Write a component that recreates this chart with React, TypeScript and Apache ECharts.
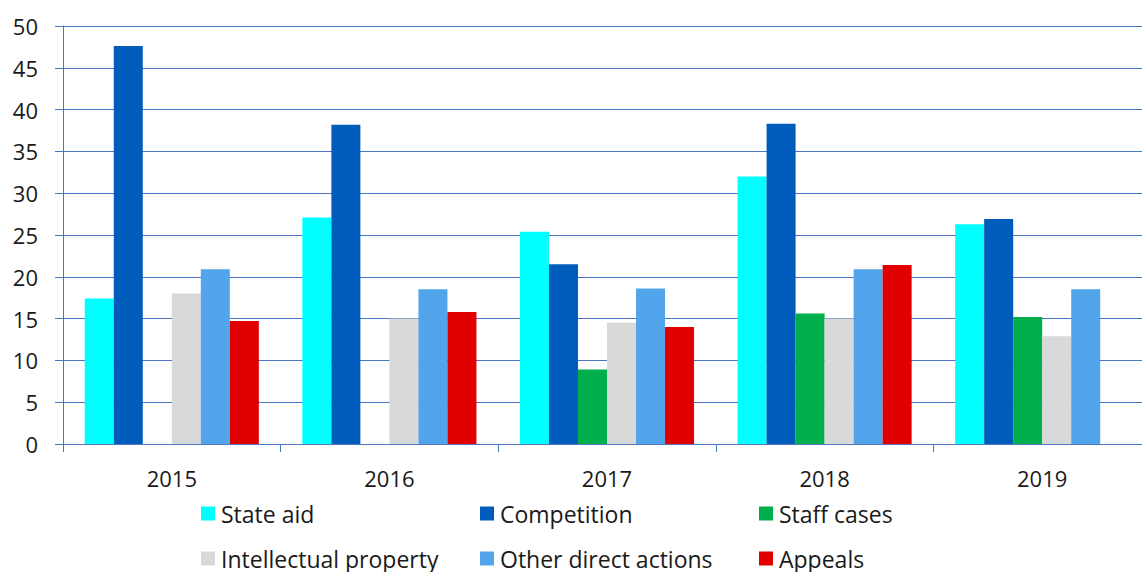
import React, { useEffect, useRef } from "react";
import * as echarts from "echarts";

const years = ["2015", "2016", "2017", "2018", "2019"];
const stateAid = [17.4, 27.1, 25.4, 32.0, 26.3];
const competition = [47.6, 38.2, 21.5, 38.3, 26.9];
const staffCases = [null, null, 8.9, 15.6, 15.2];
const intellectualProperty = [18.0, 15.0, 14.5, 15.0, 12.9];
const otherDirectActions = [20.9, 18.5, 18.6, 20.9, 18.5];
const appeals = [14.7, 15.8, 14.0, 21.4, null];

const seriesNames = [
  "State aid",
  "Competition",
  "Staff cases",
  "Intellectual property",
  "Other direct actions",
  "Appeals",
];
const seriesData = [stateAid, competition, staffCases, intellectualProperty, otherDirectActions, appeals];
const colors = ["#00FFFF", "#005CBB", "#00AE4C", "#D9D9D9", "#52A5EA", "#E00000"];

const FONT = "'Open Sans', 'Noto Sans', sans-serif";
const TEXT = "#1a1a1a";
const AXIS = "#4B74C2";

export default function App() {
  const ref = useRef<HTMLDivElement>(null);
  useEffect(() => {
    if (!ref.current) return;
    const chart = echarts.init(ref.current, undefined, { renderer: "svg" });
    const legendPos = [
      [201, 502],
      [480, 502],
      [759, 502],
      [201, 547],
      [480, 547],
      [759, 547],
    ];
    chart.setOption({
      animation: false,
      color: colors,
      textStyle: { fontFamily: FONT },
      grid: { left: 63, top: 26, bottom: 128, right: 9, containLabel: false },
      legend: seriesNames.map((n, i) => ({
        data: [n],
        left: legendPos[i][0],
        top: legendPos[i][1],
        padding: 0,
        icon: "rect",
        itemWidth: 14,
        itemHeight: 14,
        selectedMode: false,
        textStyle: { fontFamily: FONT, fontSize: 23, color: TEXT, padding: [0, 0, 0, 1] },
      })),
      xAxis: {
        type: "category",
        data: years,
        axisLine: { show: true, lineStyle: { color: AXIS, width: 1 } },
        axisTick: { show: true, length: 8, lineStyle: { color: AXIS } },
        axisLabel: { fontFamily: FONT, fontSize: 22, color: TEXT, margin: 23 },
      },
      yAxis: {
        type: "value",
        min: 0,
        max: 50,
        interval: 5,
        axisLine: { show: true, lineStyle: { color: AXIS, width: 1 } },
        axisTick: { show: true, length: 8, lineStyle: { color: AXIS } },
        splitLine: { show: true, lineStyle: { color: AXIS, width: 1 } },
        axisLabel: { fontFamily: FONT, fontSize: 22, color: TEXT, margin: 25 },
      },
      series: seriesNames.map((n, i) => ({
        name: n,
        type: "bar",
        data: seriesData[i].map((v) => (v === null ? "-" : v)),
        barGap: "0%",
        barCategoryGap: "20%",
        itemStyle: { color: colors[i] },
      })),
    });
    return () => chart.dispose();
  }, []);
  return (
    <div
      ref={ref}
      style={{ position: "fixed", left: 0, top: 0, width: 1160, height: 572, background: "#fff" }}
    />
  );
}
